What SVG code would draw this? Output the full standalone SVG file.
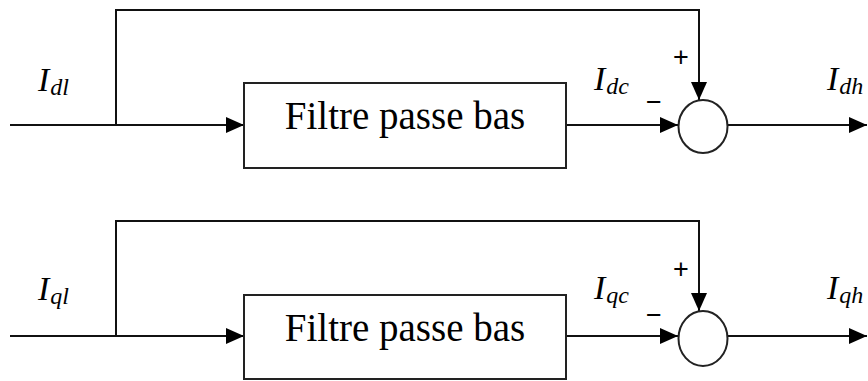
<svg xmlns="http://www.w3.org/2000/svg" width="868" height="381" viewBox="0 0 868 381">
<style>
.ln{fill:none;stroke:#111;stroke-width:2}
.box{fill:#fff;stroke:#222;stroke-width:2}
.lbl{font-family:"Liberation Serif",serif;font-size:39px;fill:#000}
.m{font-family:"Liberation Serif",serif;font-style:italic;fill:#000}
.I{font-size:34px}
.s{font-size:24px}
.sg{font-family:"Liberation Sans",sans-serif;font-size:27px;fill:#000;text-anchor:middle}
</style>
<defs>
<marker id="ah" viewBox="0 0 18 16" refX="18" refY="8" markerWidth="18" markerHeight="16" markerUnits="userSpaceOnUse" orient="auto">
<path d="M0,0 L18,8 L0,16 Z" fill="#000"/>
</marker>
</defs>
<g id="connectors">
<path class="ln" d="M10,125 H244" marker-end="url(#ah)"/>
<path class="ln" d="M116,125 V10 H699 V100" marker-end="url(#ah)"/>
<path class="ln" d="M566,125 H678" marker-end="url(#ah)"/>
<path class="ln" d="M727,125 H867" marker-end="url(#ah)"/>
<path class="ln" d="M10,336 H244" marker-end="url(#ah)"/>
<path class="ln" d="M116,336 V221 H699 V311" marker-end="url(#ah)"/>
<path class="ln" d="M566,336 H678" marker-end="url(#ah)"/>
<path class="ln" d="M727,336 H867" marker-end="url(#ah)"/>
</g>
<g id="filter_d">
<rect class="box" x="244" y="83" width="322" height="85"/>
<text class="lbl" x="405" y="129" text-anchor="middle">Filtre passe bas</text>
</g>
<g id="filter_q">
<rect class="box" x="244" y="295" width="322" height="84"/>
<text class="lbl" x="405" y="341" text-anchor="middle">Filtre passe bas</text>
</g>
<g id="sum_d">
<ellipse class="box" cx="703" cy="126.5" rx="24.5" ry="26.5"/>
<text class="sg" x="681" y="66">+</text>
<text class="sg" x="654" y="111">−</text>
</g>
<g id="sum_q">
<ellipse class="box" cx="703" cy="338.5" rx="24.5" ry="27.5"/>
<text class="sg" x="681" y="278">+</text>
<text class="sg" x="654" y="324">−</text>
</g>
<g id="labels">
<text class="m" x="38" y="91"><tspan class="I">I</tspan><tspan class="s" dy="4" dx="1">dl</tspan></text>
<text class="m" x="594" y="90"><tspan class="I">I</tspan><tspan class="s" dy="4" dx="1">dc</tspan></text>
<text class="m" x="827" y="90"><tspan class="I">I</tspan><tspan class="s" dy="4" dx="1">dh</tspan></text>
<text class="m" x="38" y="300"><tspan class="I">I</tspan><tspan class="s" dy="4" dx="1">ql</tspan></text>
<text class="m" x="594" y="299"><tspan class="I">I</tspan><tspan class="s" dy="4" dx="1">qc</tspan></text>
<text class="m" x="827" y="299"><tspan class="I">I</tspan><tspan class="s" dy="4" dx="1">qh</tspan></text>
</g>
</svg>
